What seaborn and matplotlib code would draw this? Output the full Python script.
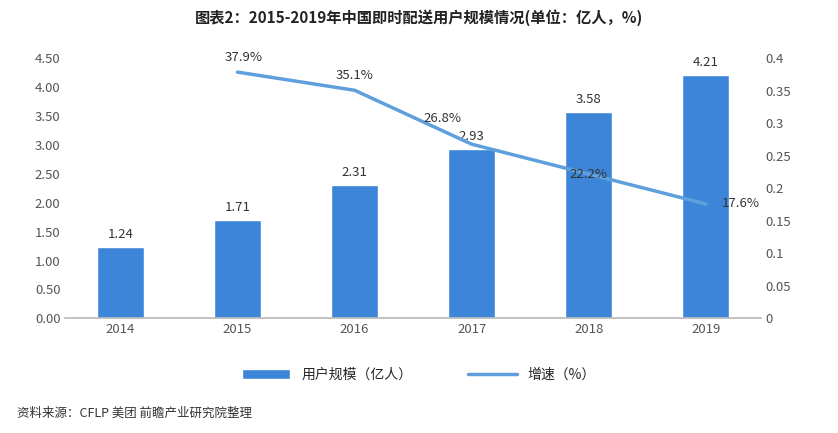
import matplotlib.pyplot as plt
import seaborn as sns
import pandas as pd
from matplotlib.lines import Line2D
from matplotlib.patches import Patch

years = ["2014", "2015", "2016", "2017", "2018", "2019"]
users = [1.24, 1.71, 2.31, 2.93, 3.58, 4.21]
growth_years = ["2015", "2016", "2017", "2018", "2019"]
growth = [0.379, 0.351, 0.268, 0.222, 0.176]

sns.set_theme(style="white")
plt.rcParams['font.family'] = ['Noto Sans CJK SC', 'DejaVu Sans']

bar_color = "#3d85d8"
line_color = "#5fa0dc"

fig = plt.figure(figsize=(8.38, 4.33), dpi=100)
ax = fig.add_axes([0.078, 0.265, 0.83, 0.6])
df = pd.DataFrame({"year": years, "users": users})
sns.barplot(data=df, x="year", y="users", color=bar_color, width=0.4,
            saturation=1, ax=ax)
ax.set_ylim(0, 4.5)
ax.set_yticks([i * 0.5 for i in range(10)])
ax.set_yticklabels([f"{i * 0.5:.2f}" for i in range(10)])
ax.set_xlabel("")
ax.set_ylabel("")
for i, v in enumerate(users):
    ax.text(i, v + 0.1, f"{v:.2f}", ha="center", va="bottom", fontsize=9.5, color="#333333")

ax2 = ax.twinx()
xs = [years.index(y) for y in growth_years]
ax2.plot(xs, growth, color=line_color, lw=2.5)
ax2.set_ylim(0, 0.4)
ax2.set_yticks([i * 0.05 for i in range(9)])
ax2.set_yticklabels(["0", "0.05", "0.1", "0.15", "0.2", "0.25", "0.3", "0.35", "0.4"])
# label offsets (x in categories, y in axis units)
offsets = [(0.05, 0.012), (0.0, 0.012), (-0.25, 0.03), (0.0, 0.0), (0.3, 0.0)]
for x, g, (dx, dy) in zip(xs, growth, offsets):
    ax2.text(x + dx, g + dy, f"{g * 100:.1f}%", ha="center",
             va="bottom" if dy > 0 else "center", fontsize=9.5, color="#333333")

for a in (ax, ax2):
    for s in a.spines.values():
        s.set_visible(False)
    a.tick_params(axis="both", labelsize=9.5, colors="#555555", length=0)
ax.spines["bottom"].set_visible(True)
ax.spines["bottom"].set_color("#bbbbbb")

handles = [Patch(facecolor=bar_color), Line2D([0], [0], color=line_color, lw=2.5)]
fig.legend(handles, ["用户规模（亿人）", "增速（%）"], loc="center", bbox_to_anchor=(0.5, 0.135),
           ncol=2, frameon=False, fontsize=10, handlelength=3.5, columnspacing=4)

fig.text(0.5, 0.96, "图表2：2015-2019年中国即时配送用户规模情况(单位：亿人，%)", ha="center",
         va="center", fontsize=11, fontweight="bold", color="#222222")
fig.text(0.02, 0.045, "资料来源：CFLP 美团 前瞻产业研究院整理", ha="left", va="center",
         fontsize=9, color="#333333")

fig.savefig("out.png", dpi=100)
